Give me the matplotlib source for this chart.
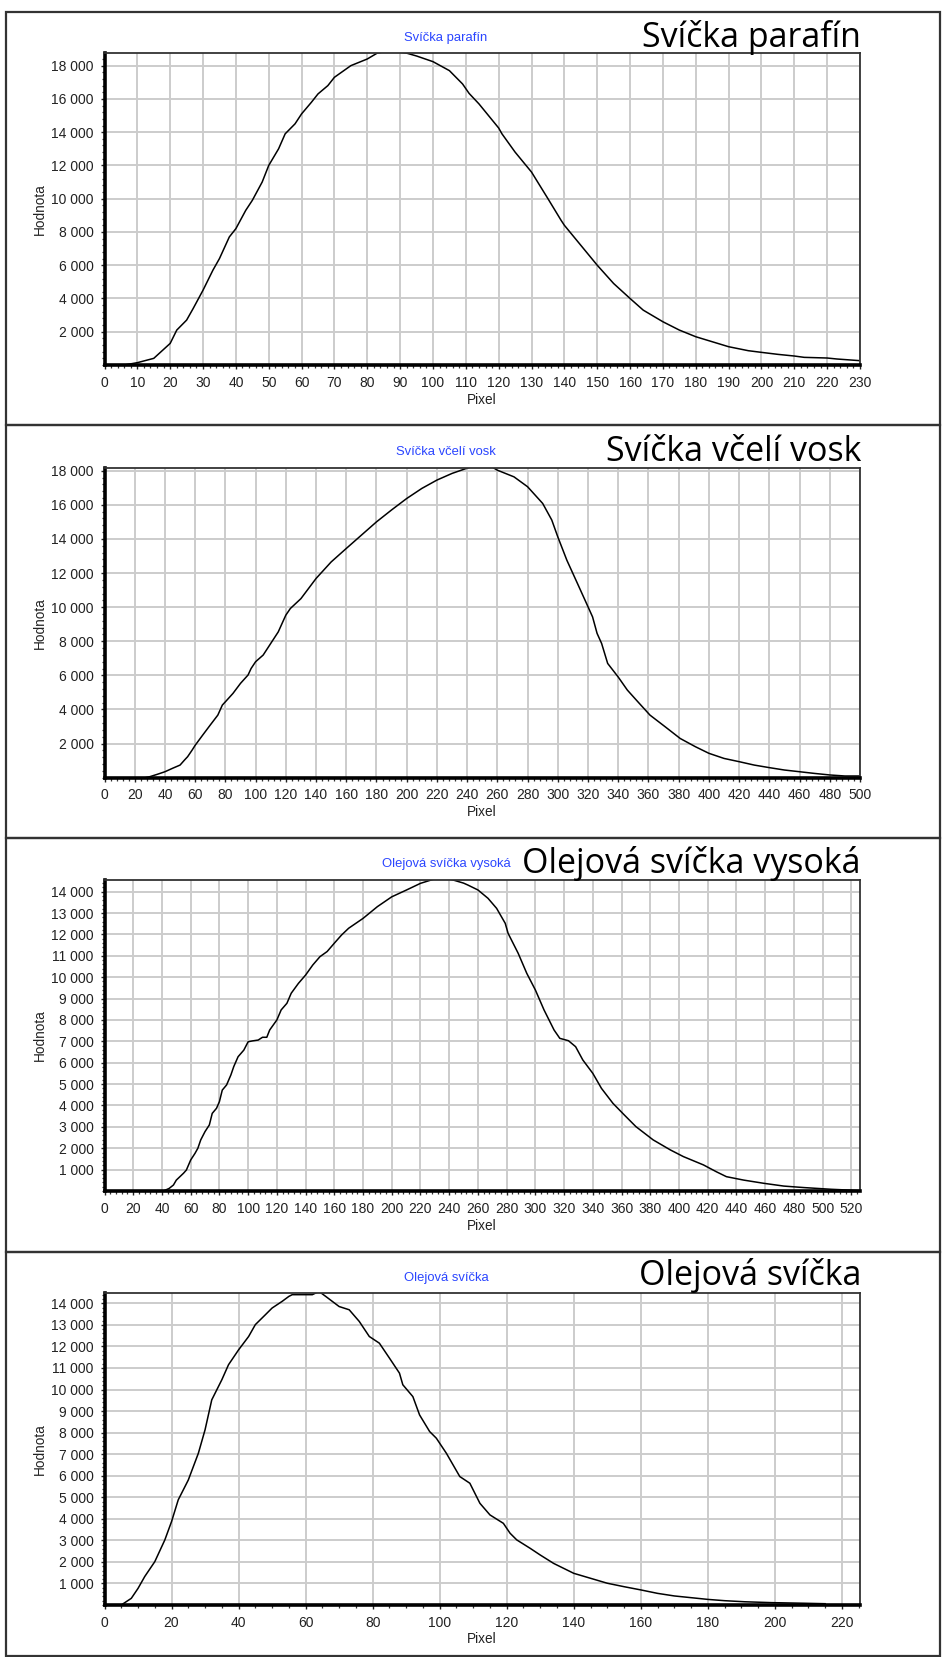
import matplotlib
matplotlib.use("Agg")
import numpy as np
from matplotlib import pyplot as plt
from matplotlib.ticker import MultipleLocator, FuncFormatter
from matplotlib.patches import Rectangle

# Data
x_parafin = [6, 10, 15, 20, 22, 25, 27, 30, 33, 35, 38, 40, 43, 45, 48, 50, 53, 55, 58, 60,
             63, 65, 68, 70, 75, 80, 83, 87, 92, 95, 100, 105, 109, 111, 114, 120, 121, 125, 130,
             135, 139, 140, 145, 150, 155, 160, 164, 170, 175, 180, 185, 190, 196, 200, 205,
             210, 213, 220, 223, 230]
y_parafin = [0, 140, 400, 1300, 2100, 2700, 3400, 4500, 5700, 6400, 7700, 8200, 9300, 9900,
             11000, 12000, 13000, 13900, 14500, 15100, 15800, 16300, 16800, 17300, 18000, 18400,
             18750, 18900, 18750, 18580, 18240, 17700, 16900, 16330, 15700, 14250, 13900, 12800,
             11600, 10000, 8700, 8400, 7200, 6000, 4900, 4000, 3300, 2600, 2100, 1700, 1400, 1100,
             860, 760, 640, 540, 460, 420, 360, 260]

x_vosk = [27, 30, 35, 40, 45, 50, 53, 55, 58, 60, 65, 70, 75, 78, 80, 85, 90, 95, 97, 100,
          105, 110, 115, 118, 120, 123, 130, 140, 150, 160, 170, 180, 190, 200, 210, 220, 230,
          240, 245, 255, 260, 271, 280, 290, 296, 300, 306, 313, 320, 323, 326, 329, 333, 340,
          346, 353, 361, 371, 381, 391, 400, 410, 420, 430, 440, 450, 460, 470, 480, 490, 500]
y_vosk = [0, 60, 200, 350, 550, 740, 1040, 1230, 1620, 1900, 2500, 3090, 3670, 4260, 4450,
          4940, 5530, 6020, 6400, 6800, 7190, 7870, 8550, 9140, 9530, 9920, 10500, 11680, 12650,
          13440, 14220, 15000, 15700, 16370, 16960, 17450, 17840, 18150, 18300, 18300, 18030,
          17640, 17060, 16080, 15110, 14120, 12750, 11390, 10020, 9430, 8460, 7870, 6700, 5900,
          5140, 4450, 3670, 2990, 2300, 1820, 1430, 1130, 940, 740, 590, 450, 350, 250, 160,
          100, 100]

x_vysoka = [0, 41, 45, 48, 50, 55, 57, 60, 63, 65, 67, 70, 73, 75, 78, 80, 82, 85, 88, 90, 93,
            97, 100, 103, 107, 110, 113, 115, 120, 123, 127, 130, 135, 140, 145, 150, 155, 160,
            165, 170, 180, 190, 200, 210, 220, 230, 240, 245, 250, 253, 260, 267, 273, 279, 281,
            288, 294, 300, 306, 313, 317, 323, 328, 333, 340, 346, 354, 362, 370, 382, 394, 403,
            417, 426, 433, 445, 459, 473, 487, 506, 526]
y_vysoka = [0, 0, 120, 280, 510, 830, 980, 1450, 1760, 2000, 2390, 2780, 3090, 3630, 3870,
            4180, 4720, 4960, 5430, 5820, 6280, 6590, 6980, 7020, 7060, 7190, 7190, 7530, 8000,
            8470, 8780, 9250, 9710, 10100, 10570, 10960, 11200, 11590, 11970, 12290, 12750,
            13300, 13760, 14070, 14390, 14600, 14600, 14500, 14400, 14310, 14080, 13690, 13220,
            12520, 12050, 11120, 10180, 9400, 8470, 7530, 7140, 7030, 6750, 6130, 5500, 4800,
            4100, 3550, 3010, 2390, 1920, 1610, 1220, 900, 670, 510, 360, 230, 160, 80, 20]

x_olej = [5, 8, 10, 12, 15, 18, 20, 22, 25, 28, 30, 32, 35, 37, 40, 43, 45, 48, 50, 53, 55,
          56, 62, 64, 66, 70, 73, 76, 79, 82, 85, 88, 89, 92, 94, 97, 99, 102, 106, 109, 112,
          115, 119, 121, 123, 127, 130, 134, 137, 140, 145, 150, 155, 160, 165, 170, 175, 180,
          185, 191, 199, 209, 215]
y_olej = [0, 310, 770, 1320, 2010, 3020, 3870, 4880, 5800, 7040, 8130, 9520, 10450, 11150,
          11840, 12460, 13010, 13470, 13780, 14090, 14320, 14400, 14400, 14550, 14320, 13850,
          13700, 13160, 12460, 12150, 11460, 10760, 10220, 9670, 8820, 8050, 7740, 7040, 5960,
          5650, 4720, 4180, 3790, 3330, 3020, 2630, 2320, 1930, 1700, 1470, 1240, 1010, 850,
          700, 540, 420, 340, 260, 200, 150, 110, 80, 60]

# (maly titulek, velky popisek, x, y, xmax, ymax, krok x, pocet dilku x, krok y)
grafy = [
    ("Svíčka parafín", "Svíčka parafín", x_parafin, y_parafin, 230, 18760, 10, 5, 2000),
    ("Svíčka včelí vosk", "Svíčka včelí vosk", x_vosk, y_vosk, 500, 18176, 20, 5, 2000),
    ("Olejová svíčka vysoká", "Olejová svíčka vysoká", x_vysoka, y_vysoka, 526, 14546, 20, 5, 1000),
    ("Olejová svíčka", "Olejová svíčka", x_olej, y_olej, 225.4, 14492, 20, 4, 1000),
]

W, H = 942, 1657
fig = plt.figure(figsize=(W / 100, H / 100), dpi=100)
plt.rcParams['font.family'] = ['Liberation Sans', 'DejaVu Sans']

# pixel layout: (axes top, axes bottom, title y, big label baseline, pixel label y, frame top, frame bottom)
layout = [
    (53, 365, 38, 47, 399.5, 12, 425),
    (467.7, 777.7, 451.7, 461, 812, 425, 838),
    (880, 1191, 864, 873, 1226, 838, 1252),
    (1292.7, 1605, 1277.7, 1285, 1639, 1252, 1656),
]
ax_left, ax_right = 104.5, 860

fmt = FuncFormatter(lambda v, p: f"{v:,.0f}".replace(",", " "))

for (maly, velky, x, y, xmax, ymax, xmaj, xdiv, ymaj), (top, bot, ty, by, py, ft, fb) in zip(grafy, layout):
    # ramecek panelu
    fig.add_artist(Rectangle((6 / W, 1 - fb / H), (940 - 6) / W, (fb - ft) / H,
                             transform=fig.transFigure, fill=False, edgecolor="#333333", lw=1.6))

    ax = fig.add_axes([ax_left / W, 1 - bot / H, (ax_right - ax_left) / W, (bot - top) / H])
    ax.plot(x, y, color="black", lw=1.1)
    ax.set_xlim(0, xmax)
    ax.set_ylim(0, ymax)
    ax.xaxis.set_major_locator(MultipleLocator(xmaj))
    ax.xaxis.set_minor_locator(MultipleLocator(xmaj / xdiv))
    ax.set_yticks(np.arange(ymaj, ymax, ymaj))
    ax.yaxis.set_minor_locator(MultipleLocator(ymaj / 5))
    ax.yaxis.set_major_formatter(fmt)
    ax.grid(True, which="major", color="#cccccc", lw=1.4)
    ax.set_axisbelow(True)
    ax.tick_params(which="major", direction="out", length=3.2, width=1, pad=4.5,
                   labelsize=10, colors="#222222")
    ax.tick_params(which="minor", direction="out", length=2.2, width=0.9, colors="#333333")
    for s in ("left", "bottom"):
        ax.spines[s].set_linewidth(2.6)
        ax.spines[s].set_color("black")
    for s in ("top", "right"):
        ax.spines[s].set_linewidth(1.3)
        ax.spines[s].set_color("#333333")

    fig.text(446 / W, 1 - ty / H, maly, color="#2a45ff", fontsize=9.4, ha="center", va="center")
    fig.text(861 / W, 1 - by / H, velky, family=["Open Sans", "DejaVu Sans"], fontsize=24.5,
             ha="right", va="baseline", color="black")
    fig.text(482 / W, 1 - py / H, "Pixel", fontsize=9.8, ha="center", va="center", color="#222222")
    fig.text(40 / W, 1 - (top + bot) / 2 / H, "Hodnota", fontsize=9.8, rotation=90,
             ha="center", va="center", color="#222222")

fig.savefig("out.png", dpi=100, facecolor="white")
